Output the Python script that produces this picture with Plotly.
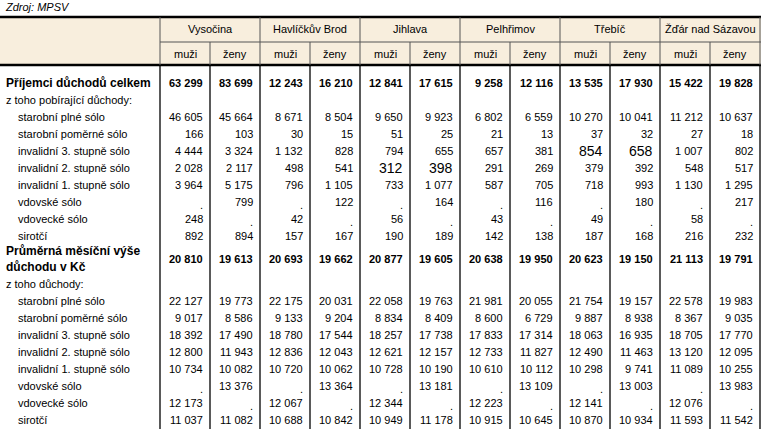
import plotly.graph_objects as go

districts = ["Vysočina", "Havlíčkův Brod", "Jihlava", "Pelhřimov", "Třebíč", "Žďár nad Sázavou"]
sexes = ["muži", "ženy"]

row_labels = [
    "Příjemci důchodů celkem", "z toho pobírající důchody:",
    "starobní plné sólo", "starobní poměrné sólo", "invalidní 3. stupně sólo",
    "invalidní 2. stupně sólo", "invalidní 1. stupně sólo", "vdovské sólo",
    "vdovecké sólo", "sirotčí",
    "Průměrná měsíční výše<br>důchodu v Kč", "z toho důchody:",
    "starobní plné sólo", "starobní poměrné sólo", "invalidní 3. stupně sólo",
    "invalidní 2. stupně sólo", "invalidní 1. stupně sólo", "vdovské sólo",
    "vdovecké sólo", "sirotčí",
]
row_bold = [1, 0, 0, 0, 0, 0, 0, 0, 0, 0, 1, 0, 0, 0, 0, 0, 0, 0, 0, 0]
row_indent = [0, 0, 1, 1, 1, 1, 1, 1, 1, 1, 0, 0, 1, 1, 1, 1, 1, 1, 1, 1]

recipients_total = ["63 299", "83 699", "12 243", "16 210", "12 841", "17 615", "9 258", "12 116", "13 535", "17 930", "15 422", "19 828"]
old_age_full = ["46 605", "45 664", "8 671", "8 504", "9 650", "9 923", "6 802", "6 559", "10 270", "10 041", "11 212", "10 637"]
old_age_partial = ["166", "103", "30", "15", "51", "25", "21", "13", "37", "32", "27", "18"]
disab_3 = ["4 444", "3 324", "1 132", "828", "794", "655", "657", "381", "854", "658", "1 007", "802"]
disab_2 = ["2 028", "2 117", "498", "541", "312", "398", "291", "269", "379", "392", "548", "517"]
disab_1 = ["3 964", "5 175", "796", "1 105", "733", "1 077", "587", "705", "718", "993", "1 130", "1 295"]
widow = [".", "799", ".", "122", ".", "164", ".", "116", ".", "180", ".", "217"]
widower = ["248", ".", "42", ".", "56", ".", "43", ".", "49", ".", "58", "."]
orphan = ["892", "894", "157", "167", "190", "189", "142", "138", "187", "168", "216", "232"]

avg_total = ["20 810", "19 613", "20 693", "19 662", "20 877", "19 605", "20 638", "19 950", "20 623", "19 150", "21 113", "19 791"]
avg_old_age_full = ["22 127", "19 773", "22 175", "20 031", "22 058", "19 763", "21 981", "20 055", "21 754", "19 157", "22 578", "19 983"]
avg_old_age_partial = ["9 017", "8 586", "9 133", "9 204", "8 834", "8 409", "8 600", "6 729", "9 887", "8 938", "8 367", "9 035"]
avg_disab_3 = ["18 392", "17 490", "18 780", "17 544", "18 257", "17 738", "17 833", "17 314", "18 063", "16 935", "18 705", "17 770"]
avg_disab_2 = ["12 800", "11 943", "12 836", "12 043", "12 621", "12 157", "12 733", "11 827", "12 490", "11 463", "13 120", "12 095"]
avg_disab_1 = ["10 734", "10 082", "10 720", "10 062", "10 728", "10 190", "10 610", "10 112", "10 298", "9 741", "11 089", "10 255"]
avg_widow = [".", "13 376", ".", "13 364", ".", "13 181", ".", "13 109", ".", "13 003", ".", "13 983"]
avg_widower = ["12 173", ".", "12 067", ".", "12 344", ".", "12 223", ".", "12 141", ".", "12 076", "."]
avg_orphan = ["11 037", "11 082", "10 688", "10 842", "10 949", "11 178", "10 915", "10 645", "10 870", "10 934", "11 593", "11 542"]

row_values = [
    recipients_total, None, old_age_full, old_age_partial, disab_3, disab_2, disab_1,
    widow, widower, orphan,
    avg_total, None, avg_old_age_full, avg_old_age_partial, avg_disab_3, avg_disab_2,
    avg_disab_1, avg_widow, avg_widower, avg_orphan,
]
# cells rendered in a larger font in the source
big_cells = {(4, 8), (4, 9), (5, 4), (5, 5)}

row_y = [83, 100, 117, 134, 151, 168, 185, 202, 219, 236, 259, 284,
         301, 318, 335, 352, 369, 386, 403, 420]

W, H = 761, 429
col0 = 160
cw = 50
top, mid, hdr = 17, 42, 65
font = "Liberation Sans, Arial, sans-serif"

fig = go.Figure()
shapes = []
ann = []

shapes.append(dict(type="rect", x0=0, x1=W, y0=top, y1=hdr, fillcolor="#F8EEDD", line_width=0, layer="below"))
shapes.append(dict(type="line", x0=0, x1=W, y0=top, y1=top, line=dict(color="black", width=2.5)))
shapes.append(dict(type="line", x0=0, x1=W, y0=hdr, y1=hdr, line=dict(color="black", width=2.5)))
shapes.append(dict(type="line", x0=col0, x1=W, y0=mid, y1=mid, line=dict(color="#555", width=1)))
for k in range(13):
    x = col0 + k * cw
    if k % 2 == 0:
        shapes.append(dict(type="line", x0=x, x1=x, y0=top, y1=hdr, line=dict(color="#555", width=1)))
    else:
        shapes.append(dict(type="line", x0=x, x1=x, y0=mid, y1=hdr, line=dict(color="#555", width=1)))
    shapes.append(dict(type="line", x0=x, x1=x, y0=hdr, y1=H, line=dict(color="black", width=1.3)))

ann.append(dict(x=3, y=7, text="<i>Zdroj: MPSV</i>", xanchor="left", font=dict(size=11)))
for i, d in enumerate(districts):
    ann.append(dict(x=col0 + (2 * i + 1) * cw, y=29, text=d, font=dict(size=11)))
    for j, s in enumerate(sexes):
        ann.append(dict(x=col0 + (2 * i + j + 0.5) * cw, y=54, text=s, font=dict(size=11)))

for r, lab in enumerate(row_labels):
    y = row_y[r]
    txt = f"<b>{lab}</b>" if row_bold[r] else lab
    ann.append(dict(x=4 + 12 * row_indent[r], y=y, text=txt, xanchor="left", align="left",
                    font=dict(size=12 if row_bold[r] else 11)))
    vals = row_values[r]
    if vals is None:
        continue
    for c, v in enumerate(vals):
        big = (r, c) in big_cells
        t = f"<b>{v}</b>" if row_bold[r] else v
        ann.append(dict(x=col0 + (c + 1) * cw - 5, y=y + (3 if v == "." else 0), text=t,
                        xanchor="right", font=dict(size=14 if big else 11)))

for a in ann:
    a.update(xref="x", yref="y", showarrow=False, yanchor="middle")
    a["font"]["family"] = font
    a["font"]["color"] = "black"

fig.update_layout(
    width=W, height=H, margin=dict(l=0, r=0, t=0, b=0),
    plot_bgcolor="white", paper_bgcolor="white",
    xaxis=dict(range=[0, W], visible=False, fixedrange=True),
    yaxis=dict(range=[H, 0], visible=False, fixedrange=True),
    shapes=shapes, annotations=ann, showlegend=False,
)
fig.write_html("out.html", config={"displayModeBar": False},
               post_script="document.body.style.margin='0px';document.body.style.overflow='hidden';")
